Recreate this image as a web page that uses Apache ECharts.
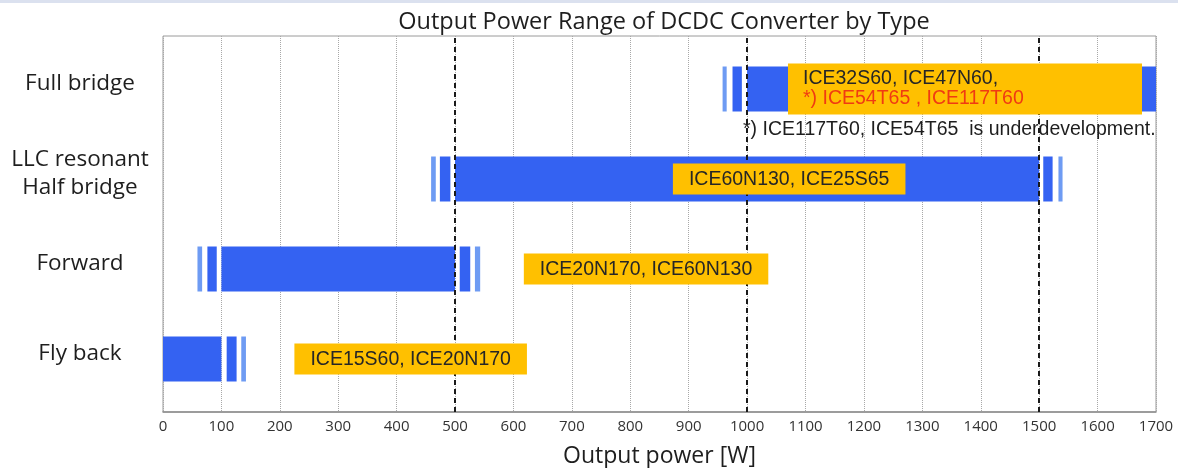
<!DOCTYPE html>
<html><head><meta charset="utf-8">
<script src="https://cdn.jsdelivr.net/npm/echarts@6/dist/echarts.min.js"></script>
<style>html,body{margin:0;padding:0;background:#fff}#c{width:1178px;height:468px}</style>
</head><body><div id="c"></div>
<script>
// ---- data ----
const categories = ['Fly back', 'Forward', 'LLC resonant\nHalf bridge', 'Full bridge'];
const mainStart = [0, 100, 500, 1000];
const mainEnd = [100, 500, 1500, 1700];
const lowDark = [null, [76, 92], [474, 492], [975, 991]];
const lowLight = [null, [59, 67], [459, 467], [958, 965]];
const highDark = [[109, 126], [508, 526], [1507, 1523], null];
const highLight = [[134, 142], [534, 543], [1533, 1540], null];
const axisMin = 0, axisMax = 1700, axisStep = 100;
const boundaryLines = [500, 1000, 1500];
const deviceLabels = ['ICE15S60, ICE20N170', 'ICE20N170, ICE60N130', 'ICE60N130, ICE25S65', 'ICE32S60, ICE47N60,'];
const devLabelExtra = [null, null, null, '*) ICE54T65 , ICE117T60'];
const labelCenters = [424, 827, 1072, 1373];
const noteText = '*) ICE117T60, ICE54T65  is underdevelopment.';
const noteX = 993;
const noteCat = 3;
const titleText = 'Output Power Range of DCDC Converter by Type';
const xName = 'Output power [W]';

// ---- build ----
const segs = [];
for (let i = 0; i < categories.length; i++) {
  segs.push([mainStart[i], mainEnd[i], i, 0]);
  if (lowDark[i]) segs.push([lowDark[i][0], lowDark[i][1], i, 0]);
  if (lowLight[i]) segs.push([lowLight[i][0], lowLight[i][1], i, 1]);
  if (highDark[i]) segs.push([highDark[i][0], highDark[i][1], i, 0]);
  if (highLight[i]) segs.push([highLight[i][0], highLight[i][1], i, 1]);
}
const COL_DARK = '#3462F2', COL_LIGHT = '#6E9BF3';
const FONT = '"Open Sans", sans-serif';
const ARIAL = '"Liberation Sans", Arial, sans-serif';
const AFS = 19.5;

const annoData = deviceLabels.map((t, i) => {
  const item = { value: [labelCenters[i], i] };
  if (devLabelExtra[i]) {
    item.label = {
      formatter: '{a|' + t + '}\n{b|' + devLabelExtra[i] + '}',
      width: 324, padding: [5, 15, 6, 15]
    };
  } else {
    item.label = { formatter: t };
  }
  return item;
});

const chart = echarts.init(document.getElementById('c'), null, { renderer: 'canvas' });
chart.setOption({
  animation: false,
  backgroundColor: '#fff',
  title: {
    text: titleText, left: 659, top: 5, textAlign: 'center',
    textStyle: { fontFamily: FONT, fontSize: 23.5, fontWeight: 'normal', color: '#1e1e1e' }
  },
  graphic: [{ type: 'rect', shape: { x: 0, y: 0, width: 1178, height: 3 }, style: { fill: '#dbe1ef' } }],
  grid: [
    { left: 163, right: 22, top: 36, bottom: 56, show: true, borderColor: '#9a9a9a', borderWidth: 1, backgroundColor: 'transparent', outerBoundsMode: 'none', containLabel: false },
    { left: 163, right: 22, top: 44, bottom: 64, outerBoundsMode: 'none', containLabel: false },
    { left: 163, right: 22, top: 39, bottom: 69, outerBoundsMode: 'none', containLabel: false }
  ],
  xAxis: [
    {
      gridIndex: 0, type: 'value', min: axisMin, max: axisMax, interval: axisStep,
      axisLine: { show: true, lineStyle: { color: '#8c8c8c', width: 1.5 } },
      axisTick: { show: false },
      splitLine: { show: true, lineStyle: { color: '#a8a8a8', type: 'dotted', width: 1 } },
      axisLabel: { fontFamily: FONT, fontSize: 15, color: '#333', margin: 7, formatter: v => String(v) },
      name: xName, nameLocation: 'middle', nameGap: 33,
      nameTextStyle: { fontFamily: FONT, fontSize: 23, color: '#1e1e1e' }
    },
    { gridIndex: 1, type: 'value', min: axisMin, max: axisMax, show: false },
    { gridIndex: 2, type: 'value', min: axisMin, max: axisMax, show: false }
  ],
  yAxis: [
    { gridIndex: 0, type: 'value', min: 0, max: 1, show: false },
    { gridIndex: 1, type: 'category', data: categories, show: false },
    {
      gridIndex: 2, type: 'category', data: categories,
      axisLine: { show: false }, axisTick: { show: false }, splitLine: { show: false },
      axisLabel: { fontFamily: FONT, fontSize: 22.5, color: '#1e1e1e', align: 'center', margin: 83, lineHeight: 28 }
    }
  ],
  series: [
    {
      type: 'scatter', xAxisIndex: 0, yAxisIndex: 0, data: [[0, 0]], symbolSize: 0, z: 1, silent: true,
      markLine: {
        symbol: 'none', silent: true, label: { show: false },
        lineStyle: { color: '#1a1a1a', type: [5, 4], width: 2 },
        data: boundaryLines.map(v => ({ xAxis: v }))
      }
    },
    {
      type: 'custom', xAxisIndex: 1, yAxisIndex: 1, z: 3,
      encode: { x: [0, 1], y: 2 },
      data: segs,
      renderItem: function (params, api) {
        const s = api.coord([api.value(0), api.value(2)]);
        const e = api.coord([api.value(1), api.value(2)]);
        const h = api.size([0, 1])[1] * 0.5;
        return {
          type: 'rect',
          shape: { x: s[0], y: s[1] - h / 2, width: e[0] - s[0], height: h },
          style: { fill: api.value(3) === 1 ? COL_LIGHT : COL_DARK }
        };
      }
    },
    {
      type: 'scatter', xAxisIndex: 1, yAxisIndex: 1, z: 5, symbolSize: 0, silent: true,
      itemStyle: { opacity: 1 },
      data: annoData,
      label: {
        show: true, position: 'inside', backgroundColor: '#FFC000', opacity: 1,
        padding: [6, 16, 5, 16], fontFamily: ARIAL, fontSize: AFS, color: '#262626', lineHeight: 20,
        rich: {
          a: { fontFamily: ARIAL, fontSize: AFS, color: '#262626', align: 'left', lineHeight: 20 },
          b: { fontFamily: ARIAL, fontSize: AFS, color: '#F03A12', align: 'left', lineHeight: 20 }
        }
      }
    },
    {
      type: 'scatter', xAxisIndex: 1, yAxisIndex: 1, z: 5, symbolSize: 0, silent: true,
      itemStyle: { opacity: 1 },
      data: [[noteX, noteCat]],
      label: {
        show: true, position: 'inside', align: 'left', offset: [0, 41], formatter: noteText,
        fontFamily: ARIAL, fontSize: AFS, color: '#1e1e1e', opacity: 1
      }
    }
  ]
});
</script></body></html>
